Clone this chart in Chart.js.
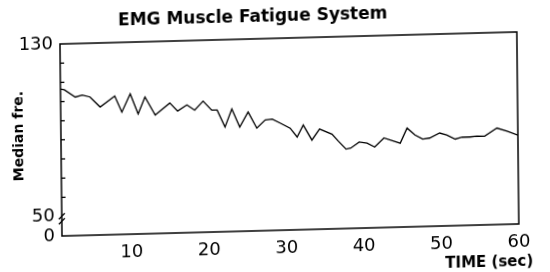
<!DOCTYPE html>
<html>
<head>
<meta charset="utf-8">
<script src="https://cdn.jsdelivr.net/npm/chart.js@4"></script>
<style>
  html, body { margin: 0; padding: 0; background: #fff; width: 550px; height: 272px; overflow: hidden; }
  #wrap { position: absolute; left: 0; top: 0; width: 550px; height: 290px;
          transform-origin: 60px 44px; transform: matrix(1, -0.0263, 0.0104, 1, 0, 0); }
</style>
</head>
<body>
<div id="wrap"><canvas id="c" width="550" height="290"></canvas></div>
<script>
// ---- data ----
const chartTitle = 'EMG Muscle Fatigue System';
const xAxisTitle = 'TIME (sec)';
const yAxisTitle = 'Median fre.';

const timeSec = [1,1.5,2.9,3.8,4.8, 6.1,8.0,8.9,10.0,11.0, 11.9,13.2,15.1,16.1,17.3,
  18.3,19.4,20.5,21.2,22.2, 23.1,24.1,25.2,26.3,27.4, 28.3,29.3,30.6,31.5,32.3,
  33.4,34.4,36.0,36.8,37.8, 38.4,39.5,40.5,41.5,42.7, 44.8,45.7,46.7,47.7,48.6,
  49.9,50.8,51.9,52.8,53.8, 54.7,55.7,57.3,58.6,60];
const medianFreq = [109.1,108.7,105.2,106.1,105.1, 100.3,105.2,97.7,106.0,96.6, 104.4,95.9,101.3,97.5,100.2,
  97.7,101.8,97.5,97.5,89.5, 97.8,89.3,96.2,88.6,92.3, 92.6,90.7,88.2,84.0,89.5,
  82.4,87.4,84.9,81.6,77.8, 78.2,80.9,80.3,78.4,82.5, 79.9,86.8,83.5,81.5,81.9,
  84.1,83.1,81.1,82.0,81.9, 82.2,82.1,85.7,84.2,82.2];

const xTickValues = [10, 20, 30, 40, 50, 60];
// broken axis: the "0" label sits at the bottom of the compressed segment
const AXIS_ZERO_POS = 41;
const yTickValues = [AXIS_ZERO_POS, 50, 130];
const yTickLabels = ['0', '50', '130'];
const yMinorTicks = [121.1, 112.2, 103.3, 94.4, 85.6, 76.7, 67.8, 58.9];
const AXIS_BREAK_VALUE = 49;

const points = timeSec.map((t, i) => ({ x: t, y: medianFreq[i] }));

const framePlugin = {
  id: 'frame',
  afterDraw(chart) {
    const { ctx, chartArea: a, scales: { y } } = chart;
    ctx.save();
    ctx.strokeStyle = '#000';
    ctx.lineWidth = 1.5;
    ctx.strokeRect(a.left, a.top, a.right - a.left, a.bottom - a.top);
    ctx.lineWidth = 1.3;
    yMinorTicks.forEach(v => {
      const py = y.getPixelForValue(v);
      ctx.beginPath(); ctx.moveTo(a.left, py); ctx.lineTo(a.left + 4, py); ctx.stroke();
    });
    const pb = y.getPixelForValue(AXIS_BREAK_VALUE);
    [-2.5, 2.5].forEach(d => {
      ctx.beginPath();
      ctx.moveTo(a.left - 3, pb + d + 3);
      ctx.lineTo(a.left + 3, pb + d - 3);
      ctx.stroke();
    });
    ctx.fillStyle = '#000';
    ctx.textBaseline = 'middle';
    ctx.textAlign = 'center';
    ctx.font = 'bold 17px "DejaVu Sans"';
    ctx.fillText(chartTitle, 253, 23);
    ctx.textAlign = 'right';
    ctx.font = 'bold 15px "DejaVu Sans"';
    ctx.fillText(xAxisTitle, 531, 274);
    ctx.translate(18, 135);
    ctx.rotate(-Math.PI / 2);
    ctx.textAlign = 'center';
    ctx.font = 'bold 14px "DejaVu Sans"';
    ctx.fillText(yAxisTitle, 0, 0);
    ctx.restore();
  }
};

new Chart(document.getElementById('c'), {
  type: 'line',
  data: {
    datasets: [{
      data: points,
      borderColor: '#000',
      borderWidth: 1.3,
      pointRadius: 0,
      tension: 0,
      fill: false
    }]
  },
  options: {
    responsive: false,
    animation: false,
    devicePixelRatio: 1,
    layout: { padding: { top: 44, right: 33, left: 0, bottom: 0 } },
    plugins: { legend: { display: false }, title: { display: false }, tooltip: { enabled: false } },
    scales: {
      x: {
        type: 'linear', min: 1, max: 60,
        grid: { display: false, drawTicks: false },
        border: { display: false },
        afterBuildTicks: s => { s.ticks = xTickValues.map(v => ({ value: v })); },
        afterFit: s => { s.height = 54; },
        ticks: { color: '#000', padding: 8, maxRotation: 0, autoSkip: false,
                 font: { family: 'DejaVu Sans', size: 18 } }
      },
      y: {
        type: 'linear', min: AXIS_ZERO_POS, max: 130,
        grid: { display: false, drawTicks: false },
        border: { display: false },
        afterBuildTicks: s => { s.ticks = yTickValues.map(v => ({ value: v })); },
        afterFit: s => { s.width = 60; },
        ticks: { color: '#000', padding: 7, autoSkip: false,
                 font: { family: 'DejaVu Sans', size: 18 },
                 callback: v => { const i = yTickValues.indexOf(v); return i >= 0 ? yTickLabels[i] : ''; } }
      }
    }
  },
  plugins: [framePlugin]
});
</script>
</body>
</html>
